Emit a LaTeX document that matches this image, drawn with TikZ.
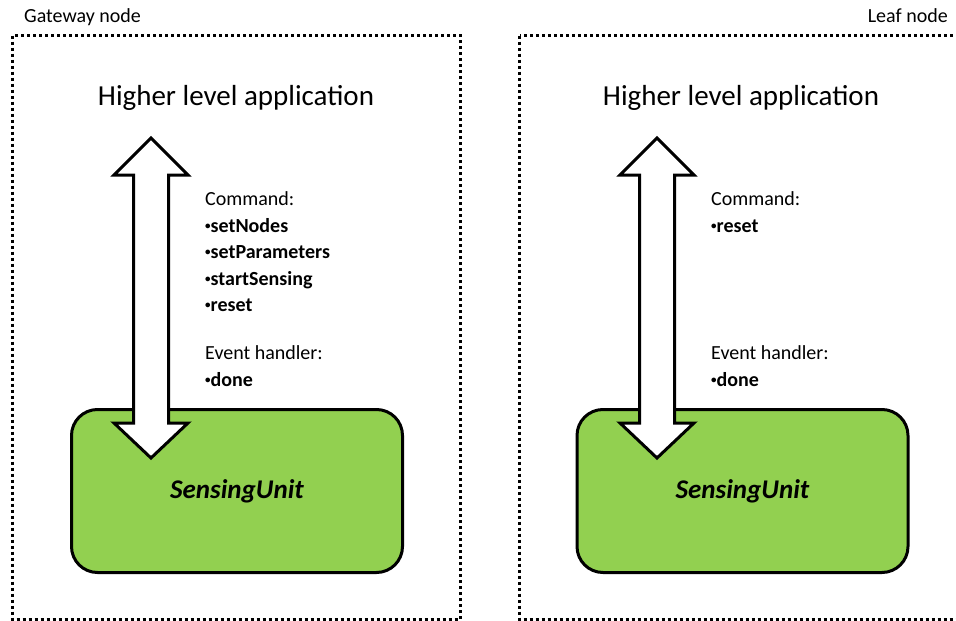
\documentclass[tikz,border=0pt]{standalone}
\usepackage{fontspec}
\setmainfont{Carlito}
\definecolor{unitgreen}{RGB}{146,208,80}
\newcommand\smallbul{\raisebox{2.5pt}{\fontsize{11}{11}\selectfont•}}
\begin{document}
\begin{tikzpicture}[x=1pt,y=-1pt,
  frame/.style={line width=3pt, dash pattern=on 3pt off 3pt},
  unitbox/.style={draw, line width=3pt, fill=unitgreen, rounded corners=26pt,
    minimum width=331pt, minimum height=163pt, inner sep=0pt,
    font=\fontsize{27}{32}\selectfont\bfseries\itshape},
  bigarrow/.style={draw, line width=3pt, fill=white, line join=miter},
  title/.style={inner sep=0pt, anchor=base, font=\fontsize{29}{34}\selectfont},
  corner/.style={inner sep=0pt, font=\fontsize{20}{24}\selectfont},
  label/.style={inner sep=0pt, anchor=base west, font=\fontsize{20}{24}\selectfont},
  item/.style={label, font=\fontsize{20}{24}\selectfont\bfseries}
]
\useasboundingbox (0,0) rectangle (956,621);

% frames
\draw[frame] (12.5,35.5) rectangle (460,619.5);
\draw[frame] (519.5,35.5) rectangle (980,619.5);
\node[corner, anchor=base west] (gwlabel) at (24,23) {Gateway node};
\node[corner, anchor=base east] (leaflabel) at (948,23) {Leaf node};

% left
\node[title] (appL) at (236,105) {Higher level application};
\node[unitbox] (unitL) at (237,491) {SensingUnit};
\draw[bigarrow, shift={(151,0)}] (0,138) -- (37,175) -- (17.5,175) -- (17.5,423) -- (37,423)
  -- (0,458) -- (-37,423) -- (-17.5,423) -- (-17.5,175) -- (-37,175) -- cycle;
\node[label] (cmdL) at (205,205) {Command:};
\node[item] (c1L) at (205,232) {\smallbul setNodes};
\node[item] (c2L) at (205,258) {\smallbul setParameters};
\node[item] (c3L) at (205,285) {\smallbul startSensing};
\node[item] (c4L) at (205,311) {\smallbul reset};
\node[label] (evL) at (205,359) {Event handler:};
\node[item] (e1L) at (205,386) {\smallbul done};

% right
\node[title] (appR) at (741,105) {Higher level application};
\node[unitbox] (unitR) at (742.5,491) {SensingUnit};
\draw[bigarrow, shift={(657,0)}] (0,138) -- (37,175) -- (17.5,175) -- (17.5,423) -- (37,423)
  -- (0,458) -- (-37,423) -- (-17.5,423) -- (-17.5,175) -- (-37,175) -- cycle;
\node[label] (cmdR) at (711,205) {Command:};
\node[item] (c1R) at (711,232) {\smallbul reset};
\node[label] (evR) at (711,359) {Event handler:};
\node[item] (e1R) at (711,386) {\smallbul done};
\end{tikzpicture}
\end{document}
